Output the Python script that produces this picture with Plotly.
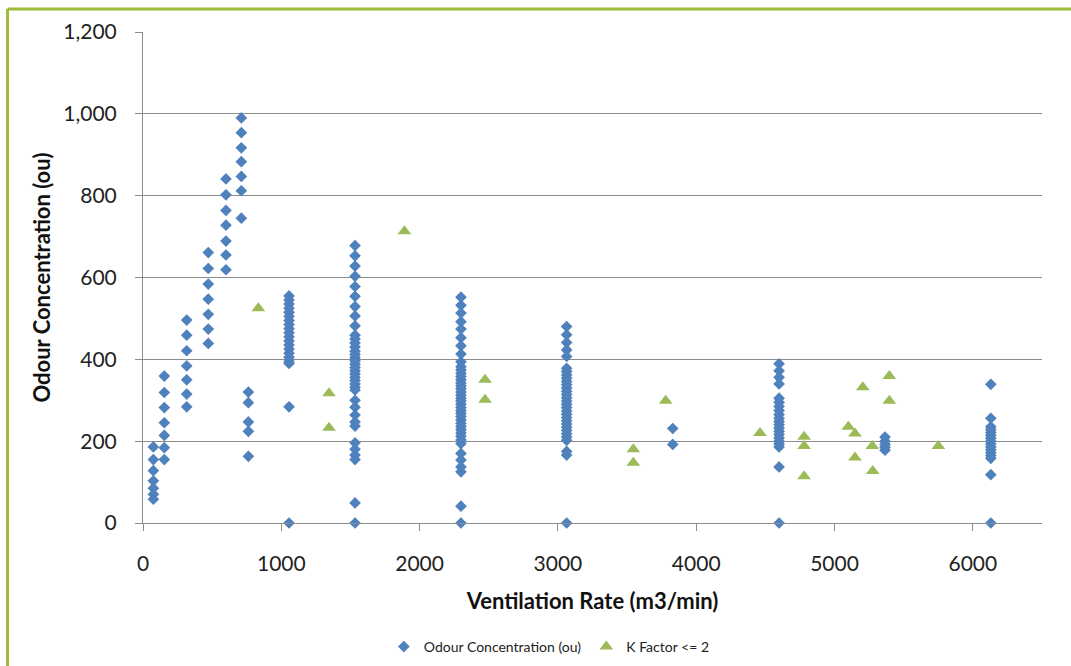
import plotly.graph_objects as go

# Odour concentration columns: ventilation rate -> measured odour values
odour_rates = [75, 154, 316, 472, 600, 711, 762, 1056, 1533, 2299, 3063, 3830, 4599, 5365, 6130]
odour_values = [
    [186, 155, 128, 103, 85, 70, 58],
    [359, 319, 282, 245, 214, 184, 155],
    [496, 459, 421, 384, 350, 315, 284],
    [661, 622, 584, 547, 510, 474, 439],
    [841, 802, 764, 728, 689, 655, 619],
    [990, 954, 917, 883, 847, 812, 745],
    [320, 294, 247, 224, 163],
    [555, 545, 535, 525, 515, 505, 495, 485, 475, 465, 455, 445, 435, 425, 415, 405, 395, 390, 284, 0],
    [678, 653, 628, 603, 578, 554, 529, 506, 482, 459, 450, 440, 430, 420, 412, 404, 396, 388, 380,
     372, 364, 356, 348, 340, 332, 325, 300, 283, 264, 247, 237, 196, 180, 166, 155, 49, 0],
    [552, 532, 513, 492, 474, 453, 433, 413, 394, 382, 374, 366, 358, 350, 342, 335, 328, 320, 312,
     305, 298, 290, 282, 275, 268, 260, 252, 244, 236, 228, 220, 212, 203, 194, 170, 154, 137, 125, 41, 0],
    [480, 460, 441, 423, 407, 378, 370, 362, 354, 346, 338, 330, 322, 314, 306, 298, 290, 282, 274,
     266, 258, 250, 242, 234, 226, 218, 210, 202, 175, 166, 0],
    [231, 192],
    [389, 372, 356, 340, 305, 295, 285, 275, 265, 256, 248, 240, 232, 224, 216, 208, 200, 193, 186, 137, 0],
    [210, 200, 192, 185, 178],
    [339, 256, 235, 228, 221, 214, 207, 200, 193, 186, 179, 172, 165, 158, 118, 0],
]

# K factor <= 2 points
k_rates = [834, 1345, 1345, 1890, 2473, 2473, 3545, 3545, 3779, 4461,
           4780, 4780, 4780, 5100, 5148, 5148, 5204, 5273, 5276, 5396, 5396, 5751]
k_values = [525, 317, 233, 713, 350, 301, 180, 147, 299, 220,
            211, 188, 114, 235, 219, 160, 332, 188, 127, 359, 299, 188]

x_tick_vals = [0, 1000, 2000, 3000, 4000, 5000, 6000]
y_tick_vals = [0, 200, 400, 600, 800, 1000, 1200]

ox, oy = [], []
for r, vals in zip(odour_rates, odour_values):
    for v in vals:
        ox.append(r)
        oy.append(v)

BLUE = "#4F81BD"
GREEN = "#9BBB59"
GRID = "#8C8C8C"
FONT = "Lato"

fig = go.Figure()
fig.add_trace(go.Scatter(
    x=ox, y=oy, mode="markers", name="Odour Concentration (ou)", cliponaxis=False,
    marker=dict(symbol="diamond", size=9, color=BLUE, line=dict(width=0)),
))
fig.add_trace(go.Scatter(
    x=k_rates, y=k_values, mode="markers", name="K Factor <= 2", cliponaxis=False,
    marker=dict(symbol="triangle-up", size=12, color=GREEN, line=dict(width=0)),
))

fig.update_layout(
    width=1071, height=666,
    margin=dict(l=143, r=29, t=32, b=143, autoexpand=False),
    paper_bgcolor="white", plot_bgcolor="white",
    font=dict(family=FONT, color="#222222"),
    showlegend=True,
    legend=dict(
        orientation="h", x=0.452, xanchor="center", y=-0.2525, yanchor="middle",
        font=dict(size=14, family=FONT, color="#222222"),
        itemwidth=30, tracegroupgap=0,
    ),
    xaxis=dict(
        range=[0, 6500], tickvals=x_tick_vals, ticktext=[str(v) for v in x_tick_vals],
        showgrid=False, zeroline=False, automargin=False,
        showline=True, linecolor=GRID, linewidth=1,
        ticks="outside", ticklen=7, tickcolor=GRID,
        tickfont=dict(size=21, family=FONT, color="#222222"),
        ticklabelstandoff=15,
        title=dict(text="<b>Ventilation Rate (m3/min)</b>", font=dict(size=22, family=FONT, color="#111111"),
                   standoff=19),
    ),
    yaxis=dict(
        range=[0, 1200], tickvals=y_tick_vals, tickformat=",",
        showgrid=True, gridcolor=GRID, gridwidth=1, zeroline=False, automargin=False,
        showline=True, linecolor=GRID, linewidth=1,
        ticks="outside", ticklen=7, tickcolor=GRID,
        tickfont=dict(size=21, family=FONT, color="#222222"),
        ticklabelstandoff=14,
        title=dict(text="<b>Odour Concentration (ou)</b>", font=dict(size=22, family=FONT, color="#111111"),
                   standoff=6),
    ),
)

# olive-green frame (top and left edges visible)
pw, ph = 1071 - 143 - 29, 666 - 32 - 143
def px_x(p):
    return (p - 143) / pw
def px_y(p):
    return (666 - 143 - p) / ph
border = "#9DBB3D"
fig.add_shape(type="line", xref="paper", yref="paper",
              x0=px_x(7.5), x1=px_x(1080), y0=px_y(9), y1=px_y(9),
              line=dict(color=border, width=3))
fig.add_shape(type="line", xref="paper", yref="paper",
              x0=px_x(7.5), x1=px_x(7.5), y0=px_y(9), y1=px_y(680),
              line=dict(color=border, width=3))

fig.write_html("out.html", config={"displayModeBar": False},
               post_script="document.body.style.margin='0px';")
